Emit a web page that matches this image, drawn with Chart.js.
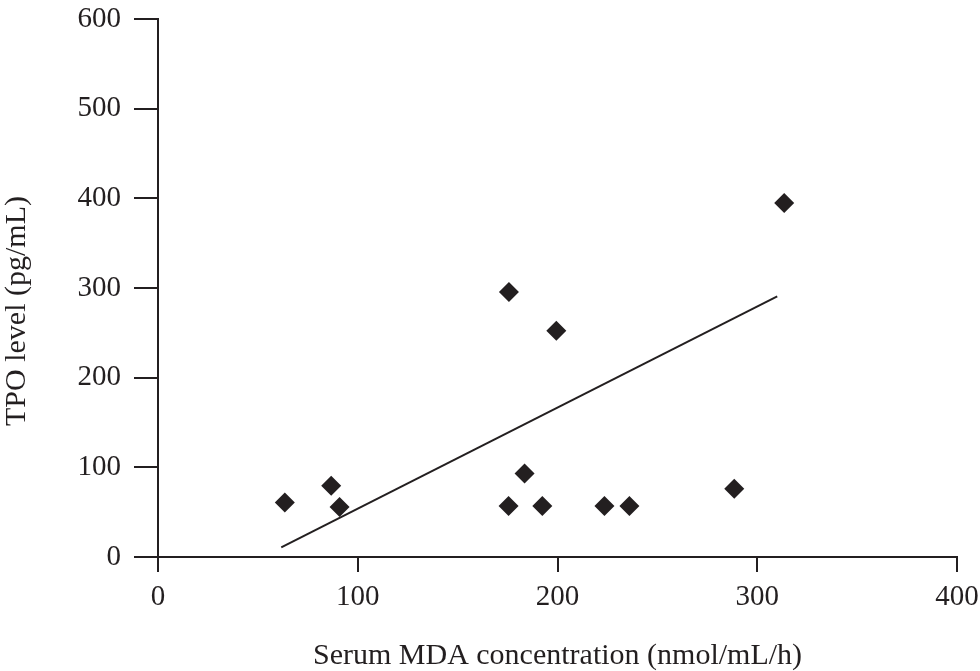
<!DOCTYPE html>
<html>
<head>
<meta charset="utf-8">
<title>TPO level vs serum MDA</title>
<script src="https://cdn.jsdelivr.net/npm/chart.js@4.4.1/dist/chart.umd.min.js"></script>
<style>
    html, body { margin: 0; padding: 0; background: #fff; }
    #wrap { width: 980px; height: 671px; position: relative; }
</style>
</head>
<body>
<div id="wrap"><canvas id="tpoChart"></canvas></div>
<script>
// values
const mdaValues = [63.5, 86.7, 90.9, 175.7, 199.4, 183.5, 175.5, 192.4, 223.5, 236.0, 288.5, 313.5];
const tpoValues = [60.9, 79.5, 55.8, 295.5, 252.4, 93.2, 56.9, 56.9, 56.9, 56.9, 76.2, 394.8];
const trendX = [61.7, 310.0];
const trendY = [10.7, 290.6];
const xTicks = [0, 100, 200, 300, 400];
const yTicks = [0, 100, 200, 300, 400, 500, 600];
const xTitle = "Serum MDA concentration (nmol/mL/h)";
const yTitle = "TPO level (pg/mL)";

const ink = "#231f20";
const serif = "'Liberation Serif', 'Times New Roman', serif";

// axis titles drawn by hand so the y title can sit off-centre like the original
const axisTitles = {
    id: "axisTitles",
    afterDraw(chart) {
        const ctx = chart.ctx;
        const area = chart.chartArea;
        ctx.save();
        ctx.fillStyle = ink;
        ctx.font = "30px " + serif;
        ctx.textAlign = "center";
        ctx.textBaseline = "alphabetic";
        ctx.fillText(xTitle, (area.left + area.right) / 2, 664);

        ctx.translate(25, 311);
        ctx.rotate(-Math.PI / 2);
        ctx.fillText(yTitle, 0, 0);
        ctx.restore();
    }
};

const points = mdaValues.map((x, i) => ({ x: x, y: tpoValues[i] }));
const trend = trendX.map((x, i) => ({ x: x, y: trendY[i] }));

new Chart(document.getElementById("tpoChart"), {
    type: "scatter",
    data: {
        datasets: [{
            label: "TPO",
            data: points,
            pointStyle: "rectRot",
            pointRadius: 10,
            pointHoverRadius: 10,
            backgroundColor: ink,
            borderColor: ink,
            borderWidth: 0
        }, {
            type: "line",
            label: "trend",
            data: trend,
            borderColor: ink,
            borderWidth: 2,
            pointRadius: 0,
            fill: false
        }]
    },
    options: {
        responsive: true,
        maintainAspectRatio: false,
        animation: false,
        devicePixelRatio: 1,
        layout: { padding: { left: 0, top: 19, right: 23, bottom: 0 } },
        plugins: {
            legend: { display: false },
            tooltip: { enabled: false }
        },
        scales: {
            x: {
                type: "linear",
                min: xTicks[0],
                max: xTicks[xTicks.length - 1],
                afterBuildTicks: (scale) => { scale.ticks = xTicks.map(v => ({ value: v })); },
                afterFit: (scale) => {
                    scale.height = 114;
                    scale.paddingLeft = 0;
                    scale.paddingRight = 0;
                },
                grid: { drawOnChartArea: false, color: ink, lineWidth: 2, tickLength: 15 },
                border: { color: ink, width: 2 },
                ticks: { color: ink, font: { family: serif, size: 29 }, padding: 8, maxRotation: 0 }
            },
            y: {
                type: "linear",
                min: yTicks[0],
                max: yTicks[yTicks.length - 1],
                afterBuildTicks: (scale) => { scale.ticks = yTicks.map(v => ({ value: v })); },
                afterFit: (scale) => {
                    scale.width = 158;
                    scale.paddingTop = 0;
                    scale.paddingBottom = 0;
                },
                grid: { drawOnChartArea: false, color: ink, lineWidth: 2, tickLength: 24 },
                border: { color: ink, width: 2 },
                ticks: { color: ink, font: { family: serif, size: 29 }, padding: 13 }
            }
        }
    },
    plugins: [axisTitles]
});
</script>
</body>
</html>
